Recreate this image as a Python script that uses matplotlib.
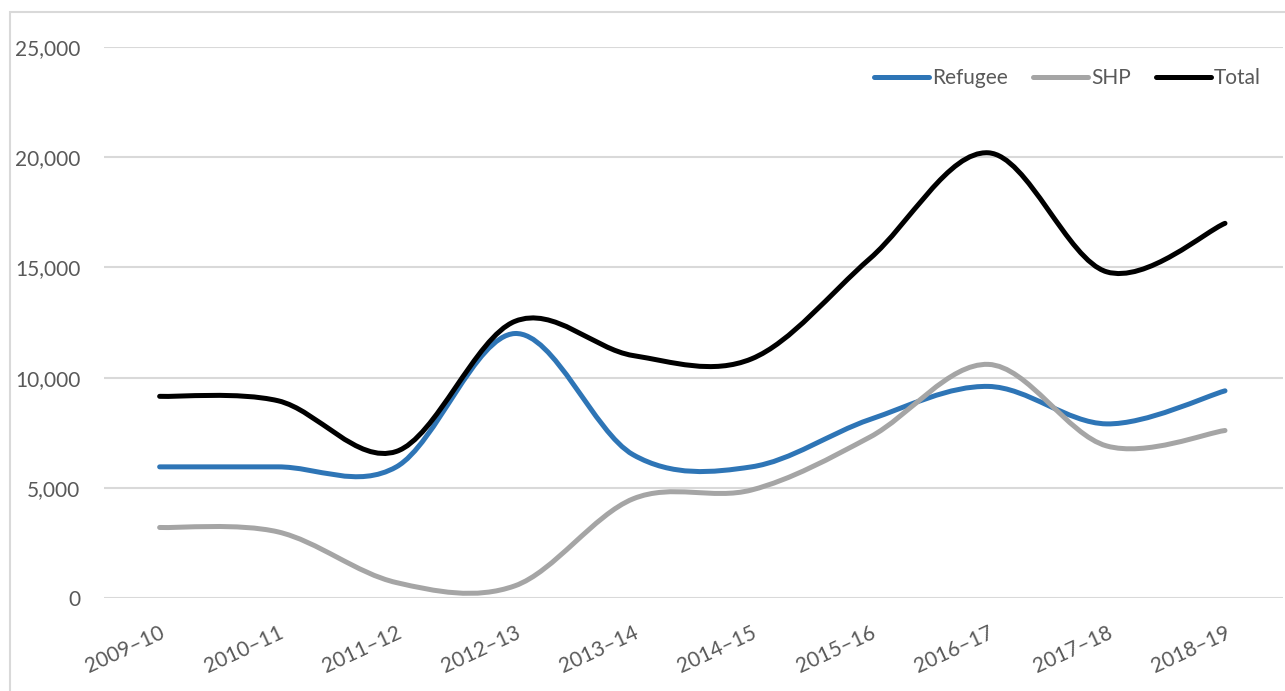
import matplotlib
matplotlib.use("Agg")
import matplotlib.pyplot as plt
from matplotlib.path import Path
from matplotlib.patches import PathPatch, Rectangle
from matplotlib.lines import Line2D
from matplotlib.ticker import FuncFormatter
import numpy as np

categories = ["2009–10", "2010–11", "2011–12", "2012–13", "2013–14",
              "2014–15", "2015–16", "2016–17", "2017–18", "2018–19"]
refugee = [5950, 5950, 5950, 12000, 6500, 5950, 8100, 9600, 7900, 9400]
shp = [3200, 3000, 700, 550, 4500, 4900, 7300, 10600, 6900, 7600]
total = [9150, 8950, 6650, 12550, 11000, 10850, 15400, 20200, 14800, 17000]

series_names = ["Refugee", "SHP", "Total"]
series_colors = ["#2E75B6", "#A5A5A5", "#000000"]

plt.rcParams['font.family'] = ['Lato', 'DejaVu Sans']

fig = plt.figure(figsize=(12.85, 6.91), dpi=100)
W, H = 1285, 691
ax = fig.add_axes([104 / W, 1 - 598 / H, (1283 - 104) / W, (598 - 47) / H])

# outer chart border
fig.patches.append(Rectangle((10 / W, -0.05), 1.2, 1 - 12 / H + 0.05,
                             transform=fig.transFigure, fill=False,
                             edgecolor="#D9D9D9", linewidth=1.5))


def smooth_path(xs, ys):
    pts = np.column_stack([xs, ys]).astype(float)
    n = len(pts)
    verts = [pts[0]]
    codes = [Path.MOVETO]
    for i in range(n - 1):
        p0 = pts[i - 1] if i > 0 else pts[i]
        p1 = pts[i]
        p2 = pts[i + 1]
        p3 = pts[i + 2] if i + 2 < n else pts[i + 1]
        c1 = p1 + (p2 - p0) / 6.0
        c2 = p2 - (p3 - p1) / 6.0
        verts += [c1, c2, p2]
        codes += [Path.CURVE4] * 3
    return Path(verts, codes)


x = np.arange(len(categories))
for vals, col in zip([refugee, shp, total], series_colors):
    patch = PathPatch(smooth_path(x, vals), fill=False, edgecolor=col,
                      linewidth=3.6, capstyle='round', joinstyle='round',
                      transform=ax.transData, zorder=3)
    ax.add_patch(patch)
    ax.plot(x, vals, alpha=0)

ax.set_xlim(-0.47, 9.49)
ax.set_ylim(0, 25000)
ax.set_yticks(np.arange(0, 25001, 5000))
ax.yaxis.set_major_formatter(FuncFormatter(lambda v, p: f"{int(v):,}"))
ax.set_xticks(x)
ax.set_xticklabels(categories, rotation=25, ha='right', rotation_mode='anchor')
ax.grid(axis='y', color="#D9D9D9", linewidth=1.5)
ax.set_axisbelow(True)
for s in ax.spines.values():
    s.set_visible(False)
ax.tick_params(axis='both', length=0, labelsize=15, labelcolor="#595959")
ax.tick_params(axis='y', pad=17)
ax.tick_params(axis='x', pad=18)

handles = [Line2D([0], [0], color=c, linewidth=3.6, solid_capstyle='round')
           for c in series_colors]
leg = ax.legend(handles, series_names, loc='upper right', ncol=3, frameon=False,
                fontsize=15, handlelength=2.64, handletextpad=0.15,
                columnspacing=1.2, bbox_to_anchor=(0.997, 0.996))
for t in leg.get_texts():
    t.set_color("#595959")

fig.savefig("out.png", dpi=100, facecolor="white")
